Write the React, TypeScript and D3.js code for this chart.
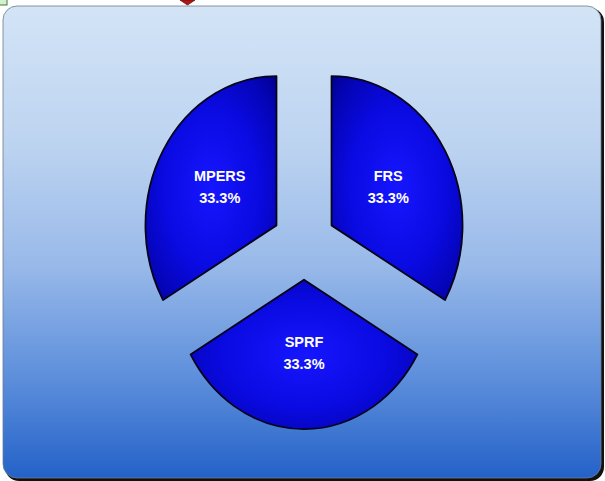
import React, { useEffect, useRef } from 'react';
import * as d3 from 'd3';

// chart data
const categories = ['FRS', 'SPRF', 'MPERS'];
const shares = [1, 1, 1];

const W = 605;
const H = 481;

const App = () => {
  const ref = useRef<SVGSVGElement | null>(null);

  useEffect(() => {
    if (ref.current) drawChart(ref.current);
  }, []);

  return (
    <svg
      ref={ref}
      width={W}
      height={H}
      style={{ position: 'absolute', left: 0, top: 0, display: 'block', background: '#fff' }}
    />
  );
};

function drawChart(el: SVGSVGElement) {
  const svg = d3.select(el);
  svg.selectAll('*').remove();

  const defs = svg.append('defs');

  const bg = defs.append('linearGradient')
    .attr('id', 'panelGrad')
    .attr('x1', 0).attr('y1', 0).attr('x2', 0).attr('y2', 1);
  [
    [0, '#d3e4f6'],
    [0.3, '#bcd3f0'],
    [0.55, '#98b9e9'],
    [0.78, '#5f90dc'],
    [1, '#2462c8'],
  ].forEach(([o, c]) => bg.append('stop').attr('offset', o as number).attr('stop-color', c as string));

  const sliceGrad = defs.append('radialGradient')
    .attr('id', 'sliceGrad')
    .attr('cx', '50%').attr('cy', '50%').attr('r', '72%');
  [
    [0, '#1616ff'],
    [0.5, '#0a0ae2'],
    [0.82, '#0404b4'],
    [1, '#000088'],
  ].forEach(([o, c]) => sliceGrad.append('stop').attr('offset', o as number).attr('stop-color', c as string));

  // stray bits at the top edge of the screenshot
  svg.append('rect')
    .attr('x', -2).attr('y', -2).attr('width', 9).attr('height', 7)
    .attr('fill', '#d6efcf').attr('stroke', '#3f7a3a').attr('stroke-width', 1);
  svg.append('path')
    .attr('d', 'M180,0 L195,0 L187.5,5 Z')
    .attr('fill', '#b01818').attr('stroke', '#6a0a0a').attr('stroke-width', 0.8);

  // panel with shadow
  svg.append('rect')
    .attr('x', 5).attr('y', 8).attr('width', 599).attr('height', 473)
    .attr('rx', 14)
    .attr('fill', '#111');
  svg.append('rect')
    .attr('x', 3).attr('y', 6).attr('width', 598).attr('height', 472)
    .attr('rx', 14)
    .attr('fill', 'url(#panelGrad)')
    .attr('stroke', '#6b7c90')
    .attr('stroke-width', 0.8);

  // pie
  const r = 131;
  const squash = 1.14;
  const explode = 31.8;
  const cx = 304;
  const cy = 243.5;

  const pie = d3.pie<number>().sort(null).value(d => d);
  const arcs = pie(shares);
  const arc = d3.arc<d3.PieArcDatum<number>>().innerRadius(0).outerRadius(r);
  const total = d3.sum(shares);
  const pct = d3.format('.1%');

  const g = svg.append('g');

  arcs.forEach((a, i) => {
    const mid = (a.startAngle + a.endAngle) / 2;
    const ox = Math.sin(mid) * explode;
    const oy = -Math.cos(mid) * explode;
    const slice = g.append('g')
      .attr('transform', `translate(${cx},${cy}) scale(1,${squash}) translate(${ox},${oy})`);
    slice.append('path')
      .attr('d', arc(a) as string)
      .attr('fill', 'url(#sliceGrad)')
      .attr('stroke', '#05051a')
      .attr('stroke-width', 1.8)
      .attr('stroke-linejoin', 'round')
      .attr('vector-effect', 'non-scaling-stroke');

    const [lx, ly] = arc.centroid(a);
    const px = cx + lx + ox;
    const py = cy + (ly + oy) * squash;
    const label = g.append('text')
      .attr('text-anchor', 'middle')
      .attr('fill', '#ffffff')
      .style('font-family', '"Liberation Sans", Arial, sans-serif')
      .style('font-weight', 'bold')
      .style('font-size', '14.5px');
    label.append('tspan').attr('x', px).attr('y', py - 7).text(categories[i]);
    label.append('tspan').attr('x', px).attr('y', py + 15).text(pct(shares[i] / total));
  });
}

export default App;
